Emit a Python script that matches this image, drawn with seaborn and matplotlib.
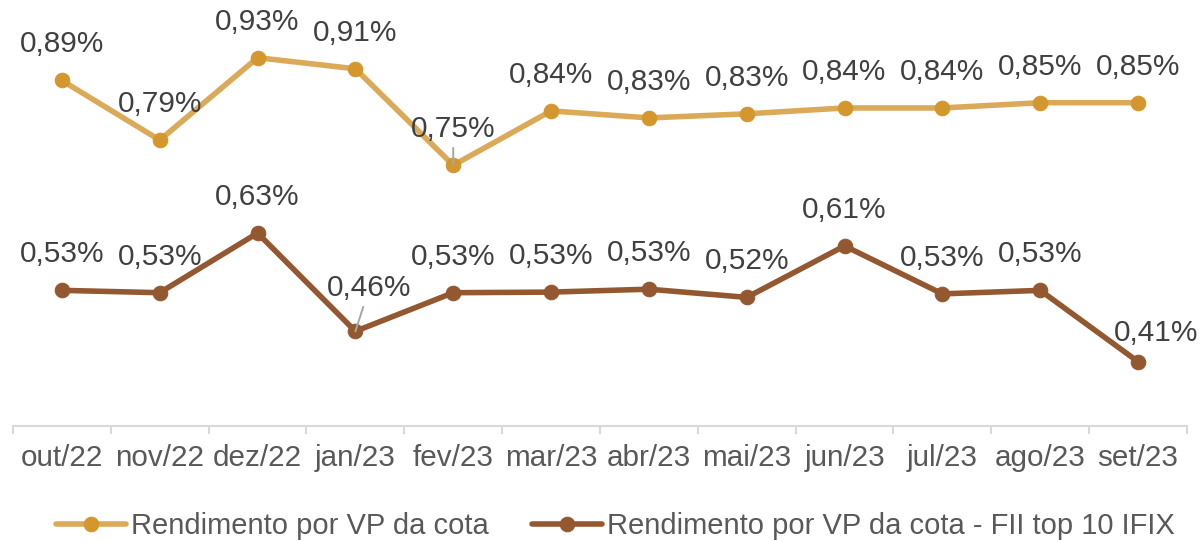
import pandas as pd
import seaborn as sns
import matplotlib.pyplot as plt
from matplotlib.ticker import FixedLocator

# Data (monthly yield on book value, %)
meses = ['out/22', 'nov/22', 'dez/22', 'jan/23', 'fev/23', 'mar/23',
         'abr/23', 'mai/23', 'jun/23', 'jul/23', 'ago/23', 'set/23']
rend_cota = [0.891, 0.789, 0.930, 0.911, 0.746, 0.839,
             0.827, 0.834, 0.844, 0.844, 0.853, 0.853]
rend_top10 = [0.532, 0.528, 0.630, 0.462, 0.528, 0.529,
              0.534, 0.520, 0.608, 0.526, 0.532, 0.410]
nome_cota = 'Rendimento por VP da cota'
nome_top10 = 'Rendimento por VP da cota - FII top 10 IFIX'

df1 = pd.DataFrame({'mes': meses, 'valor': rend_cota})
df2 = pd.DataFrame({'mes': meses, 'valor': rend_top10})

sns.set_style('white')
plt.rcParams['font.family'] = ['Liberation Sans', 'DejaVu Sans']

fig = plt.figure(figsize=(12.02, 5.41), dpi=100)
ax = fig.add_axes([0.0108, 0.2126, 0.9767, 0.7564])

# Gold line (fund) and brown line (top 10 IFIX)
sns.lineplot(data=df1, x='mes', y='valor', ax=ax, sort=False, color='#DBAA58',
             linewidth=4, marker='o', markersize=10.5, markerfacecolor='#D4972D',
             markeredgecolor='#D4972D', label=nome_cota)
sns.lineplot(data=df2, x='mes', y='valor', ax=ax, sort=False, color='#945831',
             linewidth=4, marker='o', markersize=10.5, markerfacecolor='#935830',
             markeredgecolor='#935830', label=nome_top10)

ax.set_ylim(0.3, 1.0)
ax.set_xlim(-0.5, 11.5)
ax.set_xlabel('')
ax.set_ylabel('')
ax.set_yticks([])

# Data labels above the points (a few nudged like in the original)
nudge = {(1, 3): (10, 31), (1, 11): (13, 21)}
leader = {(0, 4), (1, 3)}
for s, vals in enumerate([rend_cota, rend_top10]):
    for i, v in enumerate(vals):
        dx, dy = nudge.get((s, i), (0, 26))
        txt = f'{v:.2f}%'.replace('.', ',')
        if (s, i) in leader:
            ax.annotate(txt, (i, v), xytext=(dx, dy), textcoords='offset points',
                        ha='center', va='center', fontsize=21.5, color='#404040',
                        arrowprops=dict(arrowstyle='-', color='#A6A6A6', lw=1.4,
                                        shrinkA=1, shrinkB=0))
        else:
            ax.annotate(txt, (i, v), xytext=(dx, dy), textcoords='offset points',
                        ha='center', va='center', fontsize=21.5, color='#404040')

# Axis styling: only the category axis, ticks between categories
for side in ['top', 'right', 'left']:
    ax.spines[side].set_visible(False)
ax.spines['bottom'].set_color('#D9D9D9')
ax.spines['bottom'].set_linewidth(1.5)
ax.xaxis.set_minor_locator(FixedLocator([x - 0.5 for x in range(13)]))
ax.tick_params(axis='x', which='major', length=0, pad=13, labelsize=21.3, labelcolor='#595959')
ax.tick_params(axis='x', which='minor', length=6, width=1.5, color='#D9D9D9', bottom=True)

ax.get_legend().remove()
handles, labels = ax.get_legend_handles_labels()
fig.legend(handles, labels, loc='center', bbox_to_anchor=(0.512, 0.028), ncol=2,
           frameon=False, fontsize=21, labelcolor='#595959', handlelength=2.4,
           handletextpad=0.15, columnspacing=1.5, borderaxespad=0)

plt.savefig('out.png', dpi=100)
